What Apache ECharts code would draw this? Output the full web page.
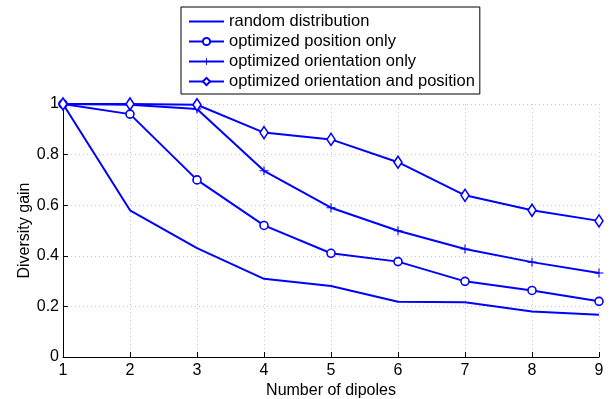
<!DOCTYPE html>
<html>
<head>
<meta charset="utf-8">
<script src="https://cdn.jsdelivr.net/npm/echarts@6/dist/echarts.min.js"></script>
<style>
  html, body { margin: 0; padding: 0; background: #fff; }
  #chart { width: 616px; height: 399px; }
</style>
</head>
<body>
<div id="chart"></div>
<script>
// Number of dipoles on the x axis
const dipoles = [1, 2, 3, 4, 5, 6, 7, 8, 9];

// Diversity gain for each placement strategy
const randomDistribution = [1, 0.58, 0.43, 0.309, 0.281, 0.218, 0.216, 0.18, 0.167];
const positionOnly = [1, 0.96, 0.70, 0.52, 0.41, 0.377, 0.299, 0.263, 0.22];
const orientationOnly = [1, 0.997, 0.98, 0.736, 0.59, 0.499, 0.427, 0.375, 0.332];
const orientationAndPosition = [1, 1, 0.997, 0.887, 0.86, 0.77, 0.639, 0.58, 0.538];

const seriesNames = [
  'random distribution',
  'optimized position only',
  'optimized orientation only',
  'optimized orientation and position'
];

const yTicks = [0, 0.2, 0.4, 0.6, 0.8, 1];

const BLUE = '#0000ff';
const FONT = 'Liberation Sans, Arial, sans-serif';
const AXIS_FONT_SIZE = 16;

const pairs = ys => dipoles.map((x, i) => [x, ys[i]]);

const plusPath = 'path://M-0.12,-1L0.12,-1L0.12,-0.12L1,-0.12L1,0.12L0.12,0.12L0.12,1L-0.12,1L-0.12,0.12L-1,0.12L-1,-0.12L-0.12,-0.12Z';
const diamondPath = 'path://M0,-1L0.6,0L0,1L-0.6,0Z';

function lineSeries(name, ys, symbol, size, filled, visible) {
  return {
    name: name,
    type: 'line',
    data: pairs(ys),
    symbol: symbol,
    symbolSize: size,
    showSymbol: visible,
    lineStyle: { color: BLUE, width: 2 },
    itemStyle: {
      color: filled ? BLUE : '#ffffff',
      borderColor: BLUE,
      borderWidth: filled ? 0 : 1.6
    },
    emphasis: { disabled: true },
    animation: false
  };
}

const chart = echarts.init(document.getElementById('chart'), null, { renderer: 'canvas' });

const gridLine = { show: true, lineStyle: { color: '#c8c8c8', type: [1, 3], width: 1 } };
const axisText = { fontSize: AXIS_FONT_SIZE, color: '#000', fontFamily: FONT };

chart.setOption({
  backgroundColor: '#ffffff',
  animation: false,
  textStyle: { fontFamily: FONT },
  grid: {
    left: 63, right: 17, top: 104, bottom: 42,
    containLabel: false,
    outerBoundsMode: 'none'
  },
  legend: {
    orient: 'vertical',
    left: 181,
    top: 7,
    padding: [6, 5, 4, 7],
    itemWidth: 35,
    itemHeight: 9,
    itemGap: 3,
    backgroundColor: '#ffffff',
    borderColor: '#000000',
    borderWidth: 1,
    borderRadius: 0,
    textStyle: { fontSize: 16.5, color: '#000', fontFamily: FONT, lineHeight: 14 },
    data: [
      { name: seriesNames[0], itemStyle: { opacity: 0 } },
      seriesNames[1],
      seriesNames[2],
      seriesNames[3]
    ],
    selectedMode: false
  },
  xAxis: {
    type: 'value',
    min: 1,
    max: 9,
    interval: 1,
    name: 'Number of dipoles',
    nameLocation: 'middle',
    nameGap: 26,
    nameMoveOverlap: false,
    nameTextStyle: axisText,
    axisLine: { lineStyle: { color: '#000', width: 1 } },
    axisTick: { inside: true, length: 5, lineStyle: { color: '#000' } },
    axisLabel: Object.assign({ margin: 6 }, axisText),
    splitLine: gridLine
  },
  yAxis: {
    type: 'value',
    min: 0,
    max: 1,
    interval: 0.2,
    name: 'Diversity gain',
    nameLocation: 'middle',
    nameGap: 30,
    nameMoveOverlap: false,
    nameRotate: 90,
    nameTextStyle: axisText,
    axisLine: { show: true, lineStyle: { color: '#000', width: 1 } },
    axisTick: { show: true, inside: true, length: 5, lineStyle: { color: '#000' } },
    axisLabel: Object.assign({
      margin: 4,
      formatter: v => {
        const t = yTicks.find(k => Math.abs(k - v) < 1e-9);
        return t === undefined ? '' : String(+t.toFixed(1));
      }
    }, axisText),
    splitLine: gridLine
  },
  series: [
    lineSeries(seriesNames[0], randomDistribution, 'circle', 0, true, false),
    lineSeries(seriesNames[1], positionOnly, 'circle', 8, false, true),
    lineSeries(seriesNames[2], orientationOnly, plusPath, 9, true, true),
    lineSeries(seriesNames[3], orientationAndPosition, diamondPath, [8, 12], false, true)
  ]
});
</script>
</body>
</html>
